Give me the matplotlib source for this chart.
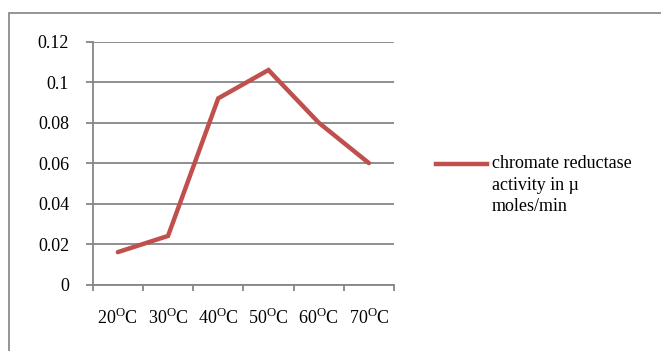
import matplotlib
matplotlib.use('Agg')
import matplotlib.pyplot as plt
from matplotlib.lines import Line2D
from matplotlib.patches import Rectangle

# temperature categories and chromate reductase activity (µ moles/min)
temperature_labels = ['20', '30', '40', '50', '60', '70']
activity = [0.016, 0.024, 0.092, 0.106, 0.080, 0.060]
y_ticks = [0, 0.02, 0.04, 0.06, 0.08, 0.1, 0.12]
y_tick_labels = ['0', '0.02', '0.04', '0.06', '0.08', '0.1', '0.12']
series_label = 'chromate reductase\nactivity in µ\nmoles/min'

plt.rcParams['font.family'] = ['Liberation Serif', 'DejaVu Serif']
plt.rcParams['mathtext.fontset'] = 'custom'
plt.rcParams['mathtext.rm'] = 'Liberation Serif'

W, H = 661, 351
fig = plt.figure(figsize=(W / 100, H / 100), dpi=100)

# outer chart frame (runs past the right and bottom edges)
fig.add_artist(Rectangle((9 / W, -0.1), 1.0, 1 - 13 / H + 0.1, transform=fig.transFigure,
                         fill=False, edgecolor='#8c8c8c', linewidth=1.3))

ax = fig.add_axes([92.7 / W, 1 - 284.5 / H, (394 - 92.7) / W, (284.5 - 41.7) / H])

x = list(range(len(activity)))
ax.plot(x, activity, color='#c0504d', linewidth=3.2, solid_capstyle='round', solid_joinstyle='miter')

ax.set_xlim(-0.5, len(activity) - 0.5)
ax.set_ylim(0, 0.12)
ax.set_yticks(y_ticks)
ax.set_yticklabels(y_tick_labels)
ax.set_xticks(x)
ax.set_xticklabels([t + r'$^{\mathrm{O}}$C' for t in temperature_labels])
ax.set_xticks([i - 0.5 for i in range(len(activity) + 1)], minor=True)

ax.yaxis.grid(True, color='#868686', linewidth=1.3)
ax.set_axisbelow(True)
for s in ['top', 'right']:
    ax.spines[s].set_visible(False)
for s in ['left', 'bottom']:
    ax.spines[s].set_color('#868686')
    ax.spines[s].set_linewidth(1.3)

ax.tick_params(axis='y', length=5, width=1.3, color='#868686', pad=12, labelsize=13)
ax.tick_params(axis='x', which='major', length=0, pad=17, labelsize=13)
ax.tick_params(axis='x', which='minor', length=4, width=1.3, color='#868686')

# legend drawn beside the plot
fig.add_artist(Line2D([436 / W, 487 / W], [1 - 164 / H, 1 - 164 / H], transform=fig.transFigure,
                      color='#c0504d', linewidth=3.2))
fig.text(492 / W, 1 - 155 / H, series_label, fontsize=13, va='top', ha='left', linespacing=1.35)

fig.savefig('out.png', dpi=100)
